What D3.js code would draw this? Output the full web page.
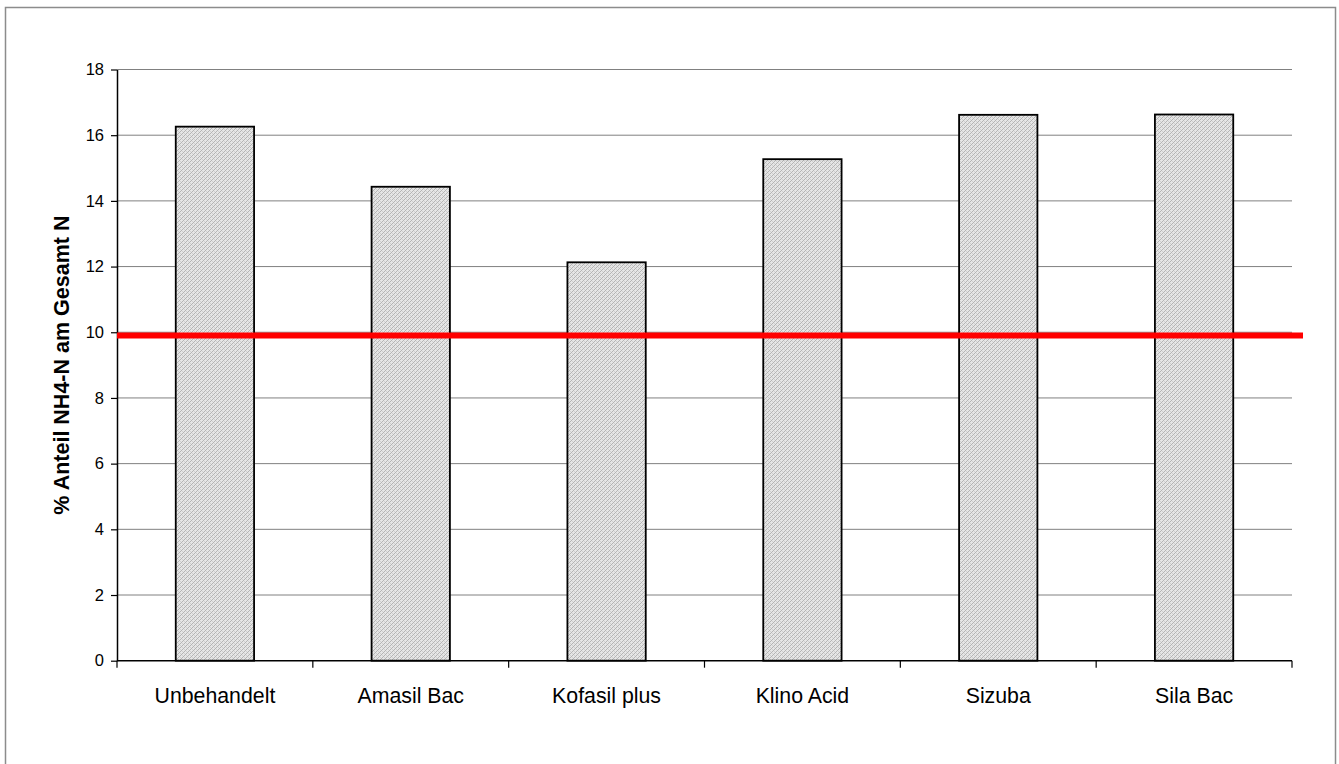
<!DOCTYPE html>
<html>
<head>
<meta charset="utf-8">
<script src="https://cdn.jsdelivr.net/npm/d3@7"></script>
<style>
  body { margin: 0; background: white; }
  svg { display: block; font-family: Arial, "Liberation Sans", sans-serif; }
</style>
</head>
<body>
<div id="chart"></div>
<script>
// Data
const categories = ["Unbehandelt", "Amasil Bac", "Kofasil plus", "Klino Acid", "Sizuba", "Sila Bac"];
const values = [16.26, 14.43, 12.13, 15.27, 16.62, 16.63];
const yTicks = [0, 2, 4, 6, 8, 10, 12, 14, 16, 18];
const refValue = 9.9;
const yTitle = "% Anteil NH4-N am Gesamt N";

const width = 1339, height = 764;
const plot = { left: 117, right: 1292, top: 69.5, bottom: 660.7 };

const svg = d3.select("#chart").append("svg")
    .attr("width", width).attr("height", height);

// fine dithered diagonal fill like the old office pattern
const defs = svg.append("defs");
const pat = defs.append("pattern").attr("id", "hatch")
    .attr("width", 4).attr("height", 4).attr("patternUnits", "userSpaceOnUse");
pat.append("rect").attr("width", 4).attr("height", 4).attr("fill", "#e6e6e6");
[[0, 3], [1, 2], [2, 1], [3, 0]].forEach(p => {
    pat.append("rect").attr("x", p[0]).attr("y", p[1])
        .attr("width", 1).attr("height", 1).attr("fill", "#b4b4b4");
});
[[0, 1], [2, 3]].forEach(p => {
    pat.append("rect").attr("x", p[0]).attr("y", p[1])
        .attr("width", 1).attr("height", 1).attr("fill", "#cfcfcf");
});

// outer frame
svg.append("rect").attr("x", 5.5).attr("y", 7.5)
    .attr("width", 1330).attr("height", 780)
    .attr("fill", "none").attr("stroke", "#8c8c8c").attr("stroke-width", 1.5);

const y = d3.scaleLinear().domain([0, 18]).range([plot.bottom, plot.top]);
const x = d3.scaleBand().domain(categories).range([plot.left, plot.right])
    .paddingInner(0.6).paddingOuter(0.3);
const edge = d3.scaleLinear().domain([0, categories.length]).range([plot.left, plot.right]);

// gridlines
svg.append("g").selectAll("line").data(yTicks.filter(d => d > 0)).enter().append("line")
    .attr("x1", plot.left).attr("x2", plot.right)
    .attr("y1", d => y(d)).attr("y2", d => y(d))
    .attr("stroke", "#808080").attr("stroke-width", 1);

// bars
svg.append("g").selectAll("rect").data(values).enter().append("rect")
    .attr("x", (d, i) => x(categories[i]))
    .attr("y", d => y(d))
    .attr("width", x.bandwidth())
    .attr("height", d => y(0) - y(d))
    .attr("fill", "url(#hatch)")
    .attr("stroke", "black").attr("stroke-width", 1.8);

// y axis
const yAxis = svg.append("g").attr("transform", `translate(${plot.left},0)`)
    .call(d3.axisLeft(y).tickValues(yTicks).tickSize(6).tickPadding(7).tickSizeOuter(0));
yAxis.select(".domain").attr("stroke", "black").attr("stroke-width", 1.5);
yAxis.selectAll(".tick line").attr("stroke", "black").attr("stroke-width", 1.2);
yAxis.selectAll("text").attr("font-size", 16.5).attr("fill", "black")
    .attr("font-family", "Arial, 'Liberation Sans', sans-serif");

// x axis line and ticks at the category edges
svg.append("line").attr("x1", plot.left).attr("x2", plot.right)
    .attr("y1", plot.bottom).attr("y2", plot.bottom)
    .attr("stroke", "black").attr("stroke-width", 1.5);
svg.append("g").selectAll("line").data(d3.range(categories.length + 1)).enter().append("line")
    .attr("x1", d => edge(d)).attr("x2", d => edge(d))
    .attr("y1", plot.bottom).attr("y2", plot.bottom + 7)
    .attr("stroke", "black").attr("stroke-width", 1.2);
svg.append("g").selectAll("text").data(categories).enter().append("text")
    .attr("x", d => x(d) + x.bandwidth() / 2)
    .attr("y", 703)
    .attr("text-anchor", "middle")
    .attr("font-size", 21.3)
    .text(d => d);

// axis title
svg.append("text")
    .attr("transform", `translate(69,${(plot.top + plot.bottom) / 2}) rotate(-90)`)
    .attr("text-anchor", "middle")
    .attr("font-size", 21.5).attr("font-weight", "bold")
    .text(yTitle);

// red reference line
svg.append("line")
    .attr("x1", plot.left).attr("x2", 1303)
    .attr("y1", y(refValue)).attr("y2", y(refValue))
    .attr("stroke", "#ff0000").attr("stroke-width", 6);
</script>
</body>
</html>
